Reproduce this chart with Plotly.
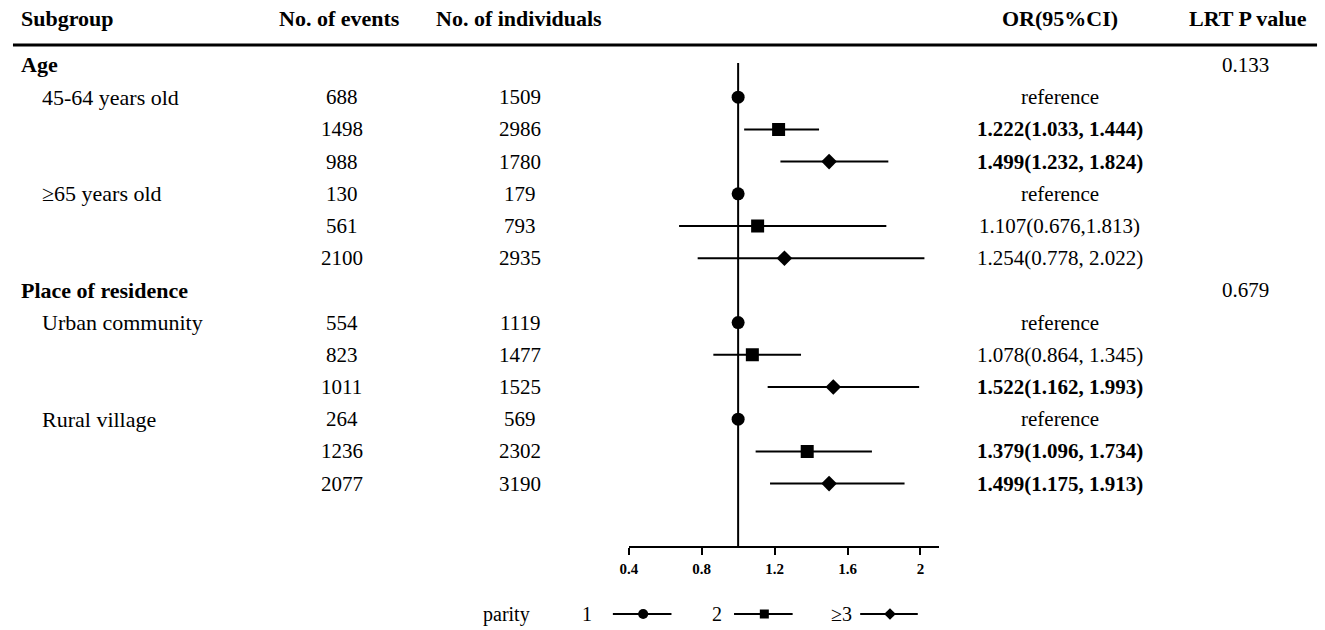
import plotly.graph_objects as go

# ---------------- data ----------------
group_names = ["Age", "Place of residence"]
level_names = ["45-64 years old", "≥65 years old", "Urban community", "Rural village"]
parity_labels = ["1", "2", "≥3"]
lrt_p = ["0.133", "0.679"]

events = [688, 1498, 988, 130, 561, 2100, 554, 823, 1011, 264, 1236, 2077]
individuals = [1509, 2986, 1780, 179, 793, 2935, 1119, 1477, 1525, 569, 2302, 3190]
or_est = [1.0, 1.222, 1.499, 1.0, 1.107, 1.254, 1.0, 1.078, 1.522, 1.0, 1.379, 1.499]
ci_low = [1.0, 1.033, 1.232, 1.0, 0.676, 0.778, 1.0, 0.864, 1.162, 1.0, 1.096, 1.175]
ci_high = [1.0, 1.444, 1.824, 1.0, 1.813, 2.022, 1.0, 1.345, 1.993, 1.0, 1.734, 1.913]
or_text = ["reference", "1.222(1.033, 1.444)", "1.499(1.232, 1.824)",
           "reference", "1.107(0.676,1.813)", "1.254(0.778, 2.022)",
           "reference", "1.078(0.864, 1.345)", "1.522(1.162, 1.993)",
           "reference", "1.379(1.096, 1.734)", "1.499(1.175, 1.913)"]

x_ticks = [0.4, 0.8, 1.2, 1.6, 2]
x_tick_text = ["0.4", "0.8", "1.2", "1.6", "2"]
NULL_OR = 1.0

# ---------------- layout constants ----------------
W, H = 1325, 630
FONT = "Palatino Linotype, Book Antiqua, Palatino, Liberation Serif, serif"
FS = 21      # numbers
FS_LAB = 22  # word labels
ROW0_PX, ROW_STEP = 65, 32.2
PLOT_TOP_PX, AXIS_PX = 63, 546
X_LEFT_PX, X_RIGHT_PX = 624, 936

symbols = ["circle", "square", "diamond"]
sizes = [13, 13, 12]
leg_sizes = [10, 9, 9]

# rows
rows = []
group_rows = []
level_rows = []
r = 0
for g in range(len(group_names)):
    group_rows.append(r)
    r += 1
    for l in range(2):
        level_rows.append(r)
        for p in range(3):
            rows.append(r)
            r += 1

y_top = (PLOT_TOP_PX - ROW0_PX) / ROW_STEP
y_bot = (AXIS_PX - ROW0_PX) / ROW_STEP

fig = go.Figure()

# forest plot traces per parity
for p in range(3):
    idx = [i for i in range(len(or_est)) if i % 3 == p]
    xs = [or_est[i] for i in idx]
    ys = [rows[i] for i in idx]
    plus = [ci_high[i] - or_est[i] for i in idx]
    minus = [or_est[i] - ci_low[i] for i in idx]
    fig.add_trace(go.Scatter(
        x=xs, y=ys, mode="markers",
        marker=dict(symbol=symbols[p], size=sizes[p], color="black"),
        error_x=dict(type="data", symmetric=False, array=plus, arrayminus=minus,
                     thickness=2, width=0, color="black"),
        showlegend=False, xaxis="x", yaxis="y", hoverinfo="skip"))

# legend glyphs (pixel overlay axis)
leg_y = 614
leg_label_x = [582, 713, 838]
leg_line = [(608, 667), (730, 789), (857, 915)]
for p in range(3):
    x0, x1 = leg_line[p]
    fig.add_trace(go.Scatter(
        x=[x0, x1], y=[leg_y] * 2, mode="lines",
        line=dict(color="black", width=2), showlegend=False,
        xaxis="x2", yaxis="y2", hoverinfo="skip"))
    fig.add_trace(go.Scatter(
        x=[(x0 + x1) / 2 + 1], y=[leg_y], mode="markers",
        marker=dict(symbol=symbols[p], size=leg_sizes[p], color="black"),
        showlegend=False, xaxis="x2", yaxis="y2", hoverinfo="skip"))

ann = []
def add_text(x, y, text, xanchor="center", yref="y", size=FS, bold=False):
    ann.append(dict(x=x, y=y, xref="x2", yref=yref, text=text, showarrow=False,
                    xanchor=xanchor, yanchor="middle",
                    font=dict(family=FONT, size=size, color="black",
                              weight="bold" if bold else "normal")))

# headers
HEAD_Y = 18
add_text(10, HEAD_Y, "Subgroup", "left", "y2", FS_LAB, bold=True)
add_text(333, HEAD_Y, "No. of events", "center", "y2", FS_LAB, bold=True)
add_text(513, HEAD_Y, "No. of individuals", "center", "y2", FS_LAB, bold=True)
add_text(1058, HEAD_Y, "OR(95%CI)", "center", "y2", FS_LAB, bold=True)
add_text(1247, HEAD_Y, "LRT P value", "center", "y2", FS_LAB, bold=True)

for g, gr in enumerate(group_rows):
    add_text(10, gr, group_names[g], "left", size=FS_LAB, bold=True)
    add_text(1245, gr, lrt_p[g], "center")
for l, lr in enumerate(level_rows):
    add_text(31, lr, level_names[l], "left", size=FS_LAB)
for i, rr in enumerate(rows):
    add_text(335, rr, str(events[i]))
    add_text(514, rr, str(individuals[i]))
    add_text(1058, rr, or_text[i], bold=(ci_low[i] > NULL_OR))

# legend text
add_text(501, leg_y, "parity", "center", "y2", size=20)
for p in range(3):
    add_text(leg_label_x[p], leg_y, parity_labels[p], "center", "y2", size=20)

shapes = [
    dict(type="line", xref="x2", yref="y2", x0=4, x1=1317, y0=45, y1=45,
         line=dict(color="black", width=3)),
    dict(type="line", xref="x", yref="y domain", x0=NULL_OR, x1=NULL_OR, y0=0, y1=1,
         line=dict(color="black", width=2)),
]

fig.update_layout(
    width=W, height=H, margin=dict(l=0, r=0, t=0, b=0),
    paper_bgcolor="white", plot_bgcolor="rgba(0,0,0,0)",
    showlegend=False,
    xaxis=dict(domain=[X_LEFT_PX / W, X_RIGHT_PX / W], range=[0.4, 2.1],
               showline=True, linecolor="black", linewidth=2,
               ticks="outside", ticklen=7, tickwidth=2, tickcolor="black",
               tickvals=x_ticks, ticktext=x_tick_text, ticklabelstandoff=1,
               tickfont=dict(family=FONT, size=15, color="black", weight="bold"),
               showgrid=False, zeroline=False, anchor="y", fixedrange=True),
    yaxis=dict(domain=[1 - AXIS_PX / H, 1 - PLOT_TOP_PX / H], range=[y_bot, y_top],
               visible=False, showgrid=False, zeroline=False, fixedrange=True,
               anchor="x"),
    xaxis2=dict(domain=[0, 1], range=[0, W], visible=False,
                anchor="y2", fixedrange=True),
    yaxis2=dict(domain=[0, 1], range=[H, 0], visible=False,
                anchor="x2", fixedrange=True),
    annotations=ann, shapes=shapes,
)

fig.write_html(
    "out.html",
    config={"displayModeBar": False},
    post_script="document.body.style.margin='0px';document.body.style.overflow='hidden';",
)
